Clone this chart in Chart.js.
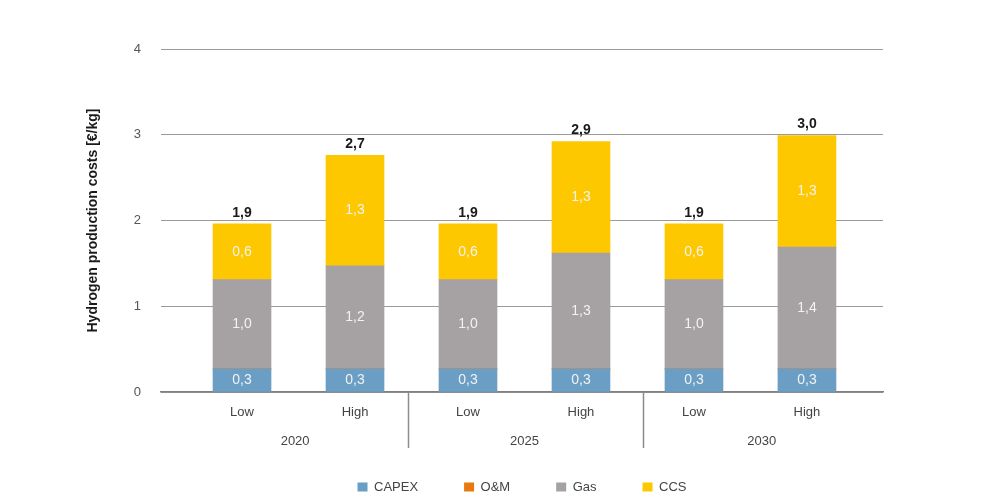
<!DOCTYPE html>
<html>
<head>
<meta charset="utf-8">
<script src="https://cdn.jsdelivr.net/npm/chart.js@4.4.1/dist/chart.umd.min.js"></script>
<style>
  html, body { margin: 0; padding: 0; background: #fff; }
  #wrap { width: 999px; height: 499px; position: relative; }
</style>
</head>
<body>
<div id="wrap"><canvas id="grafico"></canvas></div>
<script>
// valores (€/kg)
const scenarios = ['Low', 'High', 'Low', 'High', 'Low', 'High'];
const years = ['2020', '2025', '2030'];
const capex = [0.27, 0.27, 0.27, 0.27, 0.27, 0.27];
const om = [0, 0, 0, 0, 0, 0];
const gas = [1.04, 1.20, 1.04, 1.35, 1.04, 1.42];
const ccs = [0.65, 1.29, 0.65, 1.30, 0.65, 1.30];
const capexLbl = ['0,3', '0,3', '0,3', '0,3', '0,3', '0,3'];
const gasLbl = ['1,0', '1,2', '1,0', '1,3', '1,0', '1,4'];
const ccsLbl = ['0,6', '1,3', '0,6', '1,3', '0,6', '1,3'];
const totalLbl = ['1,9', '2,7', '1,9', '2,9', '1,9', '3,0'];

const FONT = "'Liberation Sans', Arial, sans-serif";
const pts = (arr) => arr.map((v, i) => ({ x: i, y: v }));

// rótulos dentro das barras + total em cima
const rotulos = {
  id: 'rotulos',
  afterDatasetsDraw(chart) {
    const ctx = chart.ctx;
    ctx.save();
    ctx.textAlign = 'center';
    ctx.textBaseline = 'middle';
    chart.data.datasets.forEach((ds, di) => {
      if (!ds.rotulos) return;
      chart.getDatasetMeta(di).data.forEach((el, i) => {
        ctx.font = '14px ' + FONT;
        ctx.fillStyle = '#f2f2f2';
        ctx.fillText(ds.rotulos[i], el.x, (el.y + el.base) / 2);
      });
    });
    const topo = chart.getDatasetMeta(chart.data.datasets.length - 1).data;
    ctx.font = 'bold 14px ' + FONT;
    ctx.fillStyle = '#1a1a1a';
    topo.forEach((el, i) => ctx.fillText(totalLbl[i], el.x, el.y - 11));
    ctx.restore();
  }
};

// anos + separadores abaixo do eixo x
const grupos = {
  id: 'grupos',
  afterDraw(chart) {
    const ctx = chart.ctx, x = chart.scales.x, base = chart.chartArea.bottom;
    ctx.save();
    ctx.strokeStyle = '#8c8c8c';
    ctx.lineWidth = 1.5;
    [1.47, 3.55].forEach(v => {
      const px = Math.round(x.getPixelForValue(v)) + 0.5;
      ctx.beginPath(); ctx.moveTo(px, base); ctx.lineTo(px, base + 56); ctx.stroke();
    });
    ctx.font = '13px ' + FONT;
    ctx.fillStyle = '#444';
    ctx.textAlign = 'center';
    ctx.textBaseline = 'middle';
    [0.47, 2.5, 4.6].forEach((v, i) => ctx.fillText(years[i], x.getPixelForValue(v), base + 49));
    ctx.restore();
  }
};

new Chart(document.getElementById('grafico'), {
  type: 'bar',
  data: {
    datasets: [
      { label: 'CAPEX', data: pts(capex), backgroundColor: '#6a9ec5', rotulos: capexLbl },
      { label: 'O&M', data: pts(om), backgroundColor: '#e8790c' },
      { label: 'Gas', data: pts(gas), backgroundColor: '#a6a1a3', rotulos: gasLbl },
      { label: 'CCS', data: pts(ccs), backgroundColor: '#fdc800', rotulos: ccsLbl },
    ],
  },
  options: {
    responsive: true, maintainAspectRatio: false, animation: false,
    layout: { padding: { left: 80, right: 116, top: 49, bottom: -4.5 } },
    datasets: { bar: { barThickness: 58, borderWidth: 0 } },
    plugins: {
      tooltip: { enabled: false },
      legend: {
        position: 'bottom', fullSize: false,
        labels: { color: '#444', font: { family: FONT, size: 13 }, boxWidth: 10, boxHeight: 9, padding: 46 },
      },
    },
    scales: {
      x: {
        type: 'linear', stacked: true, offset: false, min: -0.717, max: 5.673,
        afterBuildTicks: (s) => { s.ticks = scenarios.map((_, i) => ({ value: i })); },
        afterFit: (s) => { s.height = 42.5; },
        grid: { display: false, drawTicks: false },
        border: { display: true, color: '#808080', width: 1.5 },
        ticks: { color: '#444', font: { family: FONT, size: 13 }, padding: 13, maxRotation: 0,
          callback: (v, i) => scenarios[i] },
      },
      y: {
        stacked: true, min: 0, max: 4,
        afterFit: (s) => { s.width = 81; },
        grid: { color: '#9a9a9a', drawTicks: false },
        border: { display: false },
        ticks: { stepSize: 1, color: '#555', font: { family: FONT, size: 13 }, padding: 20 },
        title: { display: true, text: 'Hydrogen production costs [€/kg]', color: '#1a1a1a',
          font: { family: FONT, size: 14, weight: 'bold' }, padding: { top: 5, bottom: 0 } },
      },
    },
  },
  plugins: [rotulos, grupos],
});
</script>
</body>
</html>
